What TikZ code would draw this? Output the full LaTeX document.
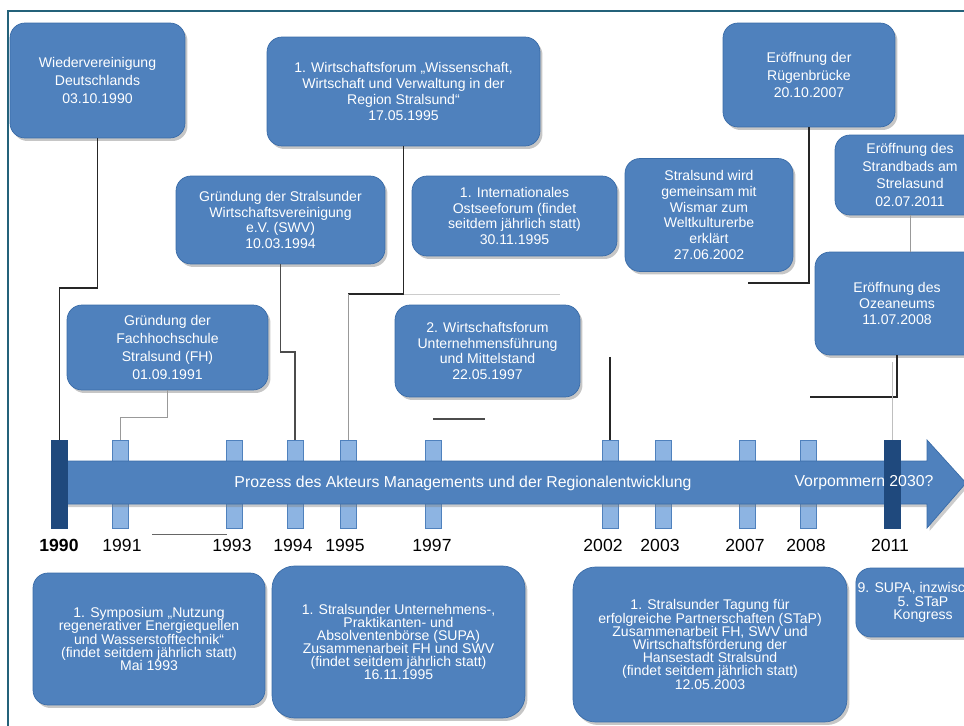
\documentclass[tikz,border=0pt]{standalone}
\usepackage{fontspec}
\setmainfont{Liberation Sans}
\usetikzlibrary{shadows}
\definecolor{boxblue}{HTML}{4F81BD}
\definecolor{boxedge}{HTML}{3A6CA8}
\definecolor{ticklight}{HTML}{8DB4E2}
\definecolor{tickdark}{HTML}{1F497D}
\definecolor{frameteal}{HTML}{24627A}
\tikzset{
  evt/.style={draw=boxedge, fill=boxblue, rounded corners=0.3cm, text=white, align=center,
    inner sep=1pt, font=\fontsize{8}{9}\selectfont,
    drop shadow={shadow xshift=0.05cm, shadow yshift=-0.06cm, opacity=0.45}},
  loose/.style={font=\fontsize{8}{10.2}\selectfont},
  tight/.style={font=\fontsize{8}{7.5}\selectfont},
  tick/.style={draw=boxblue, fill=ticklight, minimum width=0.32cm, minimum height=1.76cm, inner sep=0pt},
  darktick/.style={tick, draw=tickdark, fill=tickdark},
  yr/.style={font=\fontsize{10}{12}\selectfont},
  arrtxt/.style={text=white, font=\fontsize{9}{11}\selectfont},
  conn/.style={line width=0.7pt, black!85},
  lightconn/.style={line width=0.5pt, black!40},
}
\begin{document}
\begin{tikzpicture}[x=0.02cm, y=-0.02cm]
\useasboundingbox (0,0) rectangle (964,726);
\clip (0,0) rectangle (964,726);
% Rahmen
\draw [frameteal, line width=1.2pt] (8,11) rectangle (1000,760);
% Jahresmarken
\foreach \yy/\xx in {1991/120,1993/234,1994/295,1995/348,1997/433,2002/610,2003/663,2007/747,2008/808}
  \node [tick] (t\yy) at (\xx,484.5) {};
% Pfeil
\draw [draw=boxedge, fill=boxblue, drop shadow={shadow xshift=0.05cm, shadow yshift=-0.06cm, opacity=0.4}]
  (63,461) -- (927,461) -- (927,440) -- (966,483) -- (927,528) -- (927,504) -- (63,504) -- cycle;
\node [darktick] (t1990) at (59.5,484) {};
\node [darktick] (t2011) at (892.5,484) {};
\node [arrtxt] (proc) at (463,483) {Prozess des Akteurs Managements und der Regionalentwicklung};
\node [arrtxt] (vp) at (864,483) {Vorpommern 2030?};
% Jahreszahlen
\node [yr, font=\fontsize{10}{12}\selectfont\bfseries] (y1990) at (59,545) {1990};
\foreach \yy/\xx in {1991/122,1993/232,1994/293,1995/345,1997/432,2002/603,2003/660,2007/745,2008/806,2011/890}
  \node [yr] (y\yy) at (\xx,545) {\yy};
% Ereignisse oben
\node [evt, loose, minimum width=3.5cm, minimum height=2.3cm] (wv) at (97.5,80.5)
  {Wiedervereinigung\\Deutschlands\\03.10.1990};
\node [evt, minimum width=5.46cm, minimum height=2.18cm] (wf1) at (403.5,91.5)
  {1. Wirtschaftsforum „Wissenschaft,\\Wirtschaft und Verwaltung in der\\Region Stralsund“\\17.05.1995};
\node [evt, minimum width=4.18cm, minimum height=1.76cm] (swv) at (280.5,220)
  {Gründung der Stralsunder\\Wirtschaftsvereinigung\\e.V. (SWV)\\10.03.1994};
\node [evt, minimum width=4.1cm, minimum height=1.6cm] (osf) at (514.5,216)
  {1. Internationales\\Ostseeforum (findet\\seitdem jährlich statt)\\30.11.1995};
\node [evt, minimum width=3.36cm, minimum height=2.26cm] (wke) at (709,215)
  {Stralsund wird\\gemeinsam mit\\Wismar zum\\Weltkulturerbe\\erklärt\\27.06.2002};
\node [evt, loose, minimum width=3.44cm, minimum height=2.08cm] (rgb) at (809,75)
  {Eröffnung der\\Rügenbrücke\\20.10.2007};
\node [evt, loose, minimum width=3.0cm, minimum height=1.6cm] (sb) at (910,175)
  {Eröffnung des\\Strandbads am\\Strelasund\\02.07.2011};
\node [evt, minimum width=3.28cm, minimum height=2.06cm] (oz) at (897,303.5)
  {Eröffnung des\\Ozeaneums\\11.07.2008};
\node [evt, loose, minimum width=4.02cm, minimum height=1.7cm] (fh) at (167.5,347.5)
  {Gründung der\\Fachhochschule\\Stralsund (FH)\\01.09.1991};
\node [evt, minimum width=3.7cm, minimum height=1.84cm] (wf2) at (487.5,351)
  {2. Wirtschaftsforum\\Unternehmensführung\\und Mittelstand\\22.05.1997};
% Ereignisse unten
\node [evt, tight, minimum width=4.64cm, minimum height=2.64cm] (sym) at (149,639)
  {1. Symposium „Nutzung\\regenerativer Energiequellen\\und Wasserstofftechnik“\\(findet seitdem jährlich statt)\\Mai 1993};
\node [evt, tight, rounded corners=0.45cm, minimum width=5.06cm, minimum height=3.04cm] (supa) at (398.5,642)
  {1. Stralsunder Unternehmens-,\\Praktikanten- und\\Absolventenbörse (SUPA)\\Zusammenarbeit FH und SWV\\(findet seitdem jährlich statt)\\16.11.1995};
\node [evt, tight, rounded corners=0.45cm, minimum width=5.48cm, minimum height=3.1cm] (stap) at (710,644.5)
  {1. Stralsunder Tagung für\\erfolgreiche Partnerschaften (STaP)\\Zusammenarbeit FH, SWV und\\Wirtschaftsförderung der\\Hansestadt Stralsund\\(findet seitdem jährlich statt)\\12.05.2003};
\node [evt, tight, minimum width=2.32cm, minimum height=1.38cm] (kon) at (923,602.5)
  {9. SUPA, inzwischen\\5. STaP\\Kongress};
% Verbindungen
\coordinate (k90) at (59.5,288);
\coordinate (k91) at (120,417);
\coordinate (k94) at (295,352);
\coordinate (k95) at (348,294);
\coordinate (k95r) at (560,294);
\coordinate (k97a) at (433,419);
\coordinate (k97b) at (485,419);
\coordinate (k02) at (610,357);
\coordinate (k07) at (748,283);
\coordinate (k08) at (810,397);
\coordinate (k11) at (892.5,362);
\coordinate (k93a) at (152,534);
\coordinate (k93b) at (227,534);
\draw [conn] (wv.south) |- (k90) -- (t1990.north);
\draw [conn, black!70] (swv.south) |- (k94) -- (t1994.north);
\draw [conn] (wf1.south) |- (k95);
\draw [lightconn] (k95) -- (t1995.north);
\draw [lightconn, black!20] (wf1.south |- k95) -- (k95r);
\draw [lightconn] (fh.south) |- (k91) -- (t1991.north);
\draw [conn, black!70] (k97a) -- (k97b);
\draw [conn] (k02) -- (t2002.north);
\draw [conn] (rgb.south) |- (k07);
\draw [conn] (oz.south) |- (k08);
\draw [lightconn] (sb.south) -- (sb.south |- oz.north);
\draw [lightconn, black!25] (k11) -- (t2011.north);
\draw [lightconn, black!60] (k93a) -- (k93b);
\end{tikzpicture}
\end{document}
